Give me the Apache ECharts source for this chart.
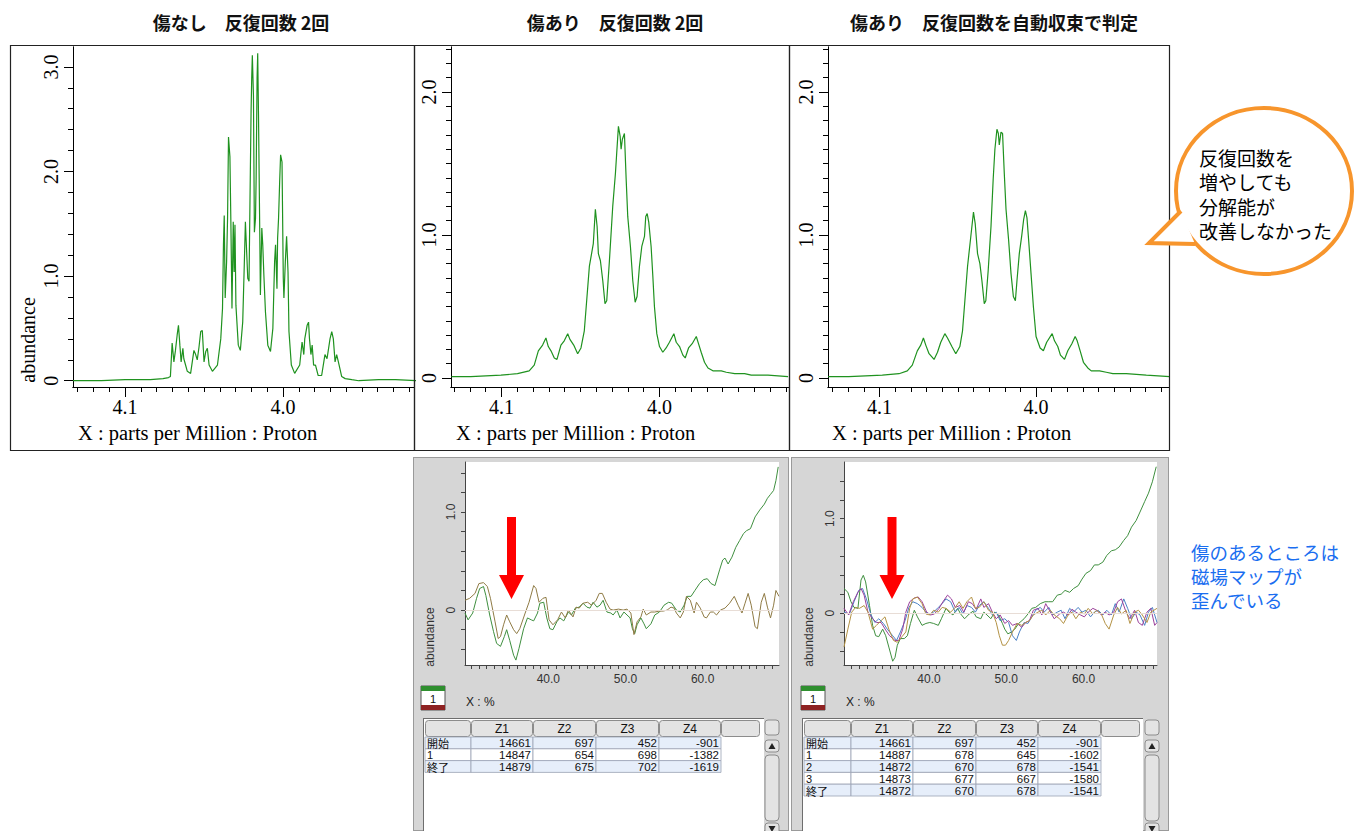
<!DOCTYPE html>
<html>
<head>
<meta charset="utf-8">
<script src="https://cdn.jsdelivr.net/npm/echarts@6/dist/echarts.min.js"></script>
<style>
  body { margin: 0; background: #fff; }
  .panel { position: absolute; background: #d6d6d6; border: 1px solid #9a9a9a; box-sizing: border-box; }
  .sheet { position: absolute; background: #fff; border-left: 1px solid #6e6e6e; border-top: 1px solid #6e6e6e; box-sizing: border-box; }
</style>
</head>
<body>
<div class="panel" style="left:413px;top:457px;width:376px;height:374px"></div>
<div class="panel" style="left:791px;top:457px;width:378px;height:374px"></div>
<div class="sheet" style="left:423px;top:718px;width:341px;height:113px"></div>
<div class="sheet" style="left:802px;top:718px;width:341px;height:113px"></div>
<div id="chart" style="position:absolute;left:0;top:0;width:1359px;height:831px"></div>
<script>
// ---- tick labels ----
var ppmMinor = [4.13, 4.12, 4.11, 4.10, 4.09, 4.08, 4.07, 4.06, 4.05, 4.04, 4.03, 4.02, 4.01, 4.00, 3.99, 3.98, 3.97, 3.96, 3.95, 3.94, 3.93, 3.92];
var ppmMajor = [4.1, 4.0];
var abundMinor1 = [0, 0.2, 0.4, 0.6, 0.8, 1.0, 1.2, 1.4, 1.6, 1.8, 2.0, 2.2, 2.4, 2.6, 2.8, 3.0];
var abundMajor1 = [0, 1, 2, 3];
var abundMinor2 = [0, 0.1, 0.2, 0.3, 0.4, 0.5, 0.6, 0.7, 0.8, 0.9, 1.0, 1.1, 1.2, 1.3, 1.4, 1.5, 1.6, 1.7, 1.8, 1.9, 2.0, 2.1, 2.2, 2.3];
var abundMajor2 = [0, 1, 2];
var pctTicks = [30, 31, 32, 33, 34, 35, 36, 37, 38, 39, 40, 41, 42, 43, 44, 45, 46, 47, 48, 49, 50, 51, 52, 53, 54, 55, 56, 57, 58, 59, 60, 61, 62, 63, 64, 65, 66, 67, 68, 69];
var pctLabels = [40, 50, 60];
var smallTicks = [-0.4, -0.2, 0, 0.2, 0.4, 0.6, 0.8, 1.0, 1.2, 1.4];
var smallLabels = [0, 1];

// ---- spectra [ppm, abundance] ----
var specNoFlaw = [
  [4.133,0.00],[4.115,0.00],[4.100,0.01],[4.084,0.01],[4.076,0.02],[4.0725,0.03],
  [4.0713,0.04],[4.0702,0.36],[4.0691,0.18],[4.0681,0.29],[4.0670,0.44],[4.0662,0.53],[4.0653,0.34],
  [4.0645,0.18],[4.0634,0.31],[4.0628,0.21],[4.0617,0.15],[4.0606,0.09],[4.0585,0.07],[4.0564,0.29],
  [4.0553,0.25],[4.0543,0.20],[4.0532,0.32],[4.0521,0.47],[4.0511,0.48],[4.0500,0.18],[4.0489,0.28],
  [4.0479,0.31],[4.0468,0.15],[4.0447,0.09],[4.0415,0.15],[4.0394,0.40],[4.0383,0.69],[4.0377,1.30],
  [4.0372,1.58],[4.0366,0.79],[4.0357,1.14],[4.0351,1.55],[4.0345,2.33],[4.0336,2.14],[4.0330,1.52],
  [4.0323,0.69],[4.0315,1.52],[4.0309,1.04],[4.0304,1.49],[4.0298,0.72],[4.0283,0.34],[4.0270,0.29],
  [4.0255,0.56],[4.0245,1.11],[4.0238,1.52],[4.0230,1.23],[4.0223,0.98],[4.0215,0.95],[4.0209,1.71],
  [4.0202,2.57],[4.0198,2.89],[4.0194,3.11],[4.0187,2.73],[4.0181,1.42],[4.0174,1.55],[4.0170,1.93],
  [4.0164,2.89],[4.0160,3.13],[4.0155,2.54],[4.0147,1.42],[4.0143,0.82],[4.0134,1.46],[4.0128,1.30],
  [4.0121,1.01],[4.0111,0.66],[4.0096,0.34],[4.0079,0.28],[4.0064,0.50],[4.0053,1.14],[4.0047,1.30],
  [4.0038,0.88],[4.0034,1.36],[4.0028,1.55],[4.0021,1.90],[4.0015,2.16],[4.0006,2.09],[3.9998,0.98],
  [3.9994,0.79],[3.9985,1.14],[3.9977,1.38],[3.9968,1.04],[3.9962,0.47],[3.9947,0.15],[3.9926,0.07],
  [3.9894,0.15],[3.9879,0.37],[3.9868,0.25],[3.9862,0.40],[3.9847,0.53],[3.9838,0.56],[3.9832,0.40],
  [3.9823,0.25],[3.9815,0.34],[3.9806,0.15],[3.9794,0.15],[3.9777,0.05],[3.9755,0.05],[3.9734,0.25],
  [3.9721,0.21],[3.9702,0.40],[3.9691,0.47],[3.9681,0.40],[3.9670,0.18],[3.9660,0.25],[3.9649,0.18],
  [3.9628,0.04],[3.9606,0.02],[3.9564,0.01],[3.9520,0.00],[3.9394,0.01],[3.9287,0.01],[3.9150,0.00]
];
var specFlaw2 = [
  [4.1317,0.01],[4.1195,0.01],[4.1004,0.02],[4.0899,0.03],[4.0825,0.05],[4.0793,0.09],[4.0767,0.19],
  [4.0740,0.23],[4.0719,0.28],[4.0704,0.22],[4.0687,0.19],[4.0666,0.14],[4.0649,0.13],[4.0624,0.23],
  [4.0603,0.26],[4.0581,0.31],[4.0567,0.27],[4.0543,0.23],[4.0518,0.17],[4.0497,0.21],[4.0476,0.33],
  [4.0461,0.54],[4.0444,0.78],[4.0433,0.85],[4.0419,0.94],[4.0406,1.18],[4.0395,1.06],[4.0387,0.87],
  [4.0374,0.82],[4.0359,0.68],[4.0345,0.52],[4.0334,0.54],[4.0317,0.82],[4.0296,1.20],[4.0279,1.43],
  [4.0271,1.57],[4.0260,1.76],[4.0249,1.69],[4.0243,1.60],[4.0235,1.67],[4.0222,1.71],[4.0211,1.39],
  [4.0201,1.13],[4.0184,0.92],[4.0169,0.68],[4.0154,0.53],[4.0142,0.57],[4.0127,0.78],[4.0112,0.92],
  [4.0095,0.99],[4.0087,1.13],[4.0078,1.15],[4.0068,1.09],[4.0053,0.92],[4.0042,0.71],[4.0032,0.50],
  [4.0017,0.31],[4.0000,0.22],[3.9979,0.18],[3.9958,0.21],[3.9937,0.25],[3.9909,0.31],[3.9894,0.25],
  [3.9873,0.22],[3.9852,0.16],[3.9837,0.14],[3.9816,0.21],[3.9793,0.24],[3.9767,0.29],[3.9753,0.24],
  [3.9736,0.18],[3.9715,0.11],[3.9693,0.07],[3.9662,0.05],[3.9609,0.05],[3.9577,0.04],[3.9524,0.03],
  [3.9461,0.03],[3.9419,0.02],[3.9313,0.02],[3.9186,0.01]
];
var specFlawAuto = [
  [4.1329,0.01],[4.1197,0.01],[4.0983,0.02],[4.0876,0.03],[4.0823,0.05],[4.0791,0.09],[4.0759,0.19],
  [4.0737,0.23],[4.0720,0.28],[4.0705,0.23],[4.0684,0.17],[4.0652,0.13],[4.0630,0.18],[4.0609,0.25],
  [4.0583,0.31],[4.0566,0.28],[4.0538,0.22],[4.0513,0.17],[4.0487,0.22],[4.0470,0.33],[4.0455,0.54],
  [4.0438,0.78],[4.0417,0.99],[4.0400,1.16],[4.0389,1.08],[4.0374,0.87],[4.0359,0.80],[4.0346,0.68],
  [4.0331,0.52],[4.0321,0.54],[4.0306,0.75],[4.0288,1.06],[4.0274,1.39],[4.0263,1.60],[4.0250,1.74],
  [4.0241,1.71],[4.0235,1.63],[4.0224,1.72],[4.0214,1.71],[4.0203,1.43],[4.0192,1.18],[4.0175,0.96],
  [4.0160,0.73],[4.0145,0.57],[4.0132,0.54],[4.0122,0.68],[4.0107,0.87],[4.0092,0.99],[4.0079,1.11],
  [4.0068,1.17],[4.0058,1.12],[4.0047,0.96],[4.0032,0.73],[4.0017,0.50],[4.0000,0.29],[3.9974,0.21],
  [3.9953,0.19],[3.9932,0.25],[3.9897,0.31],[3.9882,0.26],[3.9861,0.22],[3.9844,0.16],[3.9818,0.13],
  [3.9797,0.19],[3.9771,0.24],[3.9750,0.29],[3.9737,0.26],[3.9718,0.19],[3.9697,0.11],[3.9669,0.07],
  [3.9647,0.05],[3.9594,0.05],[3.9551,0.04],[3.9509,0.03],[3.9423,0.03],[3.9295,0.02],[3.9145,0.01]
];

// ---- field map profiles [%, abundance] ----
var mapA_green = [
  [29.2,-0.03],[29.6,-0.10],[30.2,-0.03],[30.7,0.12],[31.1,0.22],[31.6,0.24],[31.9,0.15],[32.4,-0.05],
  [32.9,-0.22],[33.3,-0.34],[33.8,-0.37],[34.3,-0.27],[34.6,-0.20],[35.0,-0.31],[35.5,-0.46],[35.8,-0.51],
  [36.2,-0.39],[36.8,-0.19],[37.3,-0.08],[37.8,-0.10],[38.1,-0.11],[38.6,-0.03],[38.9,0.07],[39.4,0.08],
  [39.8,-0.08],[40.2,-0.19],[40.6,-0.20],[41.1,-0.12],[41.5,-0.08],[42.0,-0.11],[42.6,-0.02],[43.0,-0.05],
  [43.5,0.02],[44.0,0.03],[44.5,0.07],[45.0,0.03],[45.4,0.02],[45.8,0.08],[46.3,0.03],[46.7,0.05],
  [47.1,0.10],[47.6,-0.02],[48.1,-0.03],[48.4,-0.05],[48.9,0.00],[49.3,-0.08],[49.8,-0.02],[50.2,-0.05],
  [50.6,-0.08],[50.9,-0.19],[51.2,-0.24],[51.5,-0.15],[52.0,-0.08],[52.4,-0.14],[52.7,-0.19],[53.3,-0.14],
  [53.8,-0.05],[54.4,-0.02],[55.0,0.05],[55.6,0.08],[56.0,0.07],[56.6,0.00],[57.1,-0.02],[57.6,0.05],
  [58.0,0.14],[58.5,0.14],[59.0,0.20],[59.6,0.27],[60.1,0.31],[60.6,0.32],[61.1,0.27],[61.6,0.25],
  [62.2,0.41],[62.6,0.51],[62.9,0.53],[63.3,0.47],[63.8,0.54],[64.3,0.64],[64.8,0.71],[65.3,0.78],
  [65.7,0.81],[66.2,0.83],[66.8,0.95],[67.4,1.02],[68.0,1.08],[68.4,1.14],[68.8,1.18],[69.2,1.22],
  [69.5,1.32],[69.8,1.46]
];
var mapA_brown = [
  [29.2,0.10],[29.8,0.12],[30.5,0.17],[31.0,0.27],[31.6,0.28],[32.1,0.24],[32.5,0.12],[33.1,-0.12],
  [33.5,-0.29],[33.8,-0.27],[34.2,-0.15],[34.6,-0.05],[35.0,-0.12],[35.5,-0.20],[35.9,-0.24],[36.3,-0.19],
  [37.0,-0.03],[37.5,0.08],[38.1,0.25],[38.4,0.22],[38.8,0.08],[39.3,0.12],[39.7,0.13],[40.1,-0.10],
  [40.6,-0.15],[41.2,-0.10],[41.7,-0.02],[42.2,-0.08],[42.6,0.00],[43.2,-0.07],[43.6,0.03],[44.0,0.02],
  [44.5,0.07],[45.1,0.08],[45.6,0.05],[46.2,0.10],[46.6,0.17],[47.0,0.17],[47.5,0.08],[48.0,0.01],
  [48.4,0.00],[49.1,0.01],[49.7,0.00],[50.2,0.01],[50.7,-0.03],[51.1,-0.25],[51.5,-0.12],[52.0,-0.07],
  [52.3,0.01],[52.7,-0.05],[53.3,-0.02],[53.8,-0.02],[54.4,-0.01],[54.9,-0.01],[55.4,0.00],[55.9,0.03],
  [56.3,0.02],[56.6,-0.03],[57.1,-0.08],[57.5,-0.02],[57.9,0.14],[58.4,0.10],[58.9,-0.03],[59.2,0.08],
  [59.7,0.02],[60.2,-0.07],[60.5,-0.08],[61.0,-0.02],[61.4,-0.02],[61.8,-0.05],[62.3,0.00],[62.9,0.02],
  [63.5,0.07],[64.1,0.14],[64.6,0.05],[65.1,-0.03],[65.5,0.07],[65.9,0.17],[66.3,0.05],[66.8,-0.17],
  [67.1,-0.19],[67.6,0.08],[68.0,0.17],[68.4,0.03],[68.8,-0.08],[69.2,0.05],[69.5,0.20],[69.9,0.14]
];
var mapB_green = [
  [29.0,0.26],[29.5,0.22],[29.9,0.12],[30.3,0.06],[30.8,0.05],[31.2,0.35],[31.5,0.40],[31.8,0.33],
  [32.3,0.08],[32.7,-0.13],[33.1,-0.24],[33.5,-0.25],[34.0,-0.17],[34.4,-0.24],[34.8,-0.36],[35.3,-0.51],
  [35.6,-0.47],[35.9,-0.34],[36.3,-0.27],[36.8,-0.27],[37.2,-0.24],[37.6,-0.11],[38.1,0.03],[38.5,-0.04],
  [39.1,-0.13],[39.6,-0.11],[40.1,-0.10],[40.6,-0.11],[41.2,-0.13],[41.6,-0.06],[42.2,0.05],[42.6,0.01],
  [43.1,-0.02],[43.7,0.05],[44.1,-0.01],[44.6,-0.06],[45.2,-0.01],[45.7,0.02],[46.1,-0.04],[46.7,-0.06],
  [47.1,0.01],[47.5,-0.02],[48.0,-0.06],[48.5,0.01],[49.0,-0.02],[49.5,-0.11],[49.8,-0.17],[50.2,-0.22],
  [50.7,-0.20],[51.1,-0.17],[51.6,-0.11],[52.3,-0.06],[52.8,-0.01],[53.3,0.05],[53.8,0.06],[54.4,0.10],
  [55.0,0.12],[55.5,0.12],[56.0,0.12],[56.6,0.19],[57.1,0.20],[57.6,0.24],[58.2,0.22],[58.7,0.26],
  [59.3,0.29],[59.8,0.36],[60.3,0.42],[60.9,0.45],[61.4,0.51],[61.9,0.51],[62.5,0.54],[63.0,0.61],
  [63.6,0.66],[64.1,0.67],[64.6,0.70],[65.2,0.77],[65.7,0.82],[66.2,0.91],[66.8,0.98],[67.3,1.07],
  [67.9,1.18],[68.4,1.27],[68.9,1.39],[69.4,1.55]
];
var mapB_purple = [
  [29.0,0.05],[29.6,-0.02],[30.2,0.12],[30.8,0.22],[31.2,0.26],[31.6,0.19],[32.1,0.01],[32.7,-0.06],
  [33.2,-0.10],[33.8,-0.10],[34.4,-0.18],[34.9,-0.24],[35.6,-0.29],[36.1,-0.29],[36.6,-0.17],[37.0,0.01],
  [37.5,0.12],[38.1,0.16],[38.6,0.17],[39.1,0.12],[39.7,0.01],[40.2,-0.02],[40.7,-0.01],[41.3,0.05],
  [41.8,0.12],[42.4,0.19],[42.9,0.15],[43.4,0.06],[44.0,0.08],[44.5,0.01],[45.1,0.12],[45.6,0.10],
  [46.1,0.04],[46.7,0.15],[47.1,0.06],[47.7,0.10],[48.2,0.01],[48.7,-0.06],[49.2,-0.02],[49.8,-0.11],
  [50.3,-0.08],[50.8,-0.13],[51.4,-0.11],[52.0,-0.15],[52.5,-0.10],[53.0,-0.08],[53.5,0.03],[54.1,0.05],
  [54.6,-0.02],[55.1,0.10],[55.7,0.01],[56.2,-0.06],[56.9,-0.01],[57.4,0.01],[58.0,-0.02],[58.5,0.04],
  [59.0,0.01],[59.6,-0.02],[60.1,-0.04],[60.6,0.01],[61.2,0.05],[61.7,0.03],[62.3,-0.02],[62.8,0.01],
  [63.3,-0.02],[63.9,0.01],[64.4,0.12],[64.9,0.15],[65.5,0.01],[66.0,-0.06],[66.6,0.03],[67.1,-0.10],
  [67.6,-0.13],[68.2,0.01],[68.7,0.05],[69.2,-0.13],[69.5,-0.10]
];
var mapB_blue = [
  [29.0,0.01],[29.7,-0.01],[30.3,0.12],[30.9,0.24],[31.4,0.26],[31.9,0.15],[32.5,-0.02],[33.0,-0.10],
  [33.5,-0.06],[34.1,-0.11],[34.6,-0.17],[35.3,-0.24],[35.8,-0.29],[36.3,-0.20],[36.9,-0.08],[37.4,0.06],
  [37.9,0.12],[38.5,0.10],[39.1,0.06],[39.6,0.01],[40.1,-0.01],[40.6,0.01],[41.2,0.06],[41.7,0.10],
  [42.2,0.15],[42.8,0.12],[43.4,0.01],[43.9,0.06],[44.4,-0.01],[44.9,0.08],[45.5,0.06],[46.0,0.01],
  [46.5,0.08],[47.1,0.12],[47.7,0.05],[48.2,-0.02],[48.7,0.01],[49.2,-0.08],[49.8,-0.06],[50.3,-0.10],
  [50.8,-0.24],[51.3,-0.29],[51.7,-0.20],[52.3,-0.10],[52.8,-0.11],[53.3,-0.04],[53.8,0.03],[54.4,0.06],
  [54.9,0.01],[55.5,0.06],[56.0,-0.02],[56.6,0.01],[57.1,0.03],[57.6,-0.06],[58.2,0.05],[58.7,0.01],
  [59.3,0.06],[59.8,0.01],[60.3,0.03],[60.9,-0.04],[61.4,0.01],[61.9,0.03],[62.5,-0.02],[63.0,0.03],
  [63.6,-0.02],[64.1,0.10],[64.6,0.01],[65.2,0.15],[65.7,0.05],[66.2,-0.06],[66.8,0.01],[67.3,-0.02],
  [67.9,-0.13],[68.4,0.01],[68.9,0.06],[69.5,-0.10]
];
var mapB_olive = [
  [29.0,-0.36],[29.5,-0.17],[30.0,0.01],[30.5,0.06],[31.0,0.05],[31.6,0.08],[32.1,0.01],[32.7,-0.17],
  [33.2,-0.13],[33.8,-0.08],[34.3,-0.04],[34.8,-0.17],[35.4,-0.29],[35.9,-0.31],[36.5,-0.25],[37.0,-0.20],
  [37.5,0.05],[37.9,0.15],[38.5,0.17],[39.1,0.10],[39.6,-0.01],[40.1,-0.02],[40.6,0.03],[41.2,0.01],
  [41.7,0.06],[42.2,0.05],[42.8,0.01],[43.4,0.06],[43.9,0.12],[44.4,0.05],[44.9,0.12],[45.5,0.17],
  [46.0,0.05],[46.5,0.06],[47.1,0.12],[47.7,0.03],[48.2,0.01],[48.7,-0.10],[49.1,-0.24],[49.5,-0.34],
  [49.9,-0.34],[50.3,-0.29],[50.8,-0.20],[51.4,-0.11],[52.0,-0.13],[52.5,-0.10],[53.0,-0.08],[53.5,-0.02],
  [54.1,0.01],[54.6,0.03],[55.1,-0.02],[55.7,0.03],[56.2,-0.02],[56.9,-0.06],[57.4,-0.11],[58.0,-0.02],
  [58.5,0.01],[59.0,-0.06],[59.6,0.01],[60.1,-0.01],[60.6,0.05],[61.2,-0.01],[61.7,0.03],[62.3,-0.01],
  [62.8,-0.11],[63.3,-0.17],[63.9,-0.02],[64.4,0.06],[64.9,-0.01],[65.5,0.03],[66.0,-0.11],[66.6,0.01],
  [67.1,0.03],[67.6,-0.02],[68.2,-0.10],[68.7,0.01],[69.5,0.05]
];

// ---- tables ----
var tableCols = ["Z1", "Z2", "Z3", "Z4"];
var rowsA = ["開始", "1", "終了"];
var valuesA = [
  [14661, 697, 452, -901],
  [14847, 654, 698, -1382],
  [14879, 675, 702, -1619]
];
var rowsB = ["開始", "1", "2", "3", "終了"];
var valuesB = [
  [14661, 697, 452, -901],
  [14887, 678, 645, -1602],
  [14872, 670, 678, -1541],
  [14873, 677, 667, -1580],
  [14872, 670, 678, -1541]
];

var titles = ["傷なし　反復回数 2回", "傷あり　反復回数 2回", "傷あり　反復回数を自動収束で判定"];
var bubbleLines = ["反復回数を", "増やしても", "分解能が", "改善しなかった"];
var noteLines = ["傷のあるところは", "磁場マップが", "歪んでいる"];

var serif = "Liberation Serif, Times New Roman, serif";
var sans = "Liberation Sans, DejaVu Sans, sans-serif";
var jp = "Noto Sans CJK JP, sans-serif";

function fmt(v) { return v === 0 ? "0" : v.toFixed(1); }

// top spectra axes: one axis for short ticks, one for long ticks + labels
function ppmAxis(grid, min, max, major) {
  return {
    type: "value", gridIndex: grid, position: "bottom", inverse: true, min: min, max: max,
    axisLine: { show: true, onZero: false, lineStyle: { color: "#000", width: 1 } },
    axisTick: { show: true, length: major ? 10 : 5, customValues: major ? ppmMajor : ppmMinor, lineStyle: { color: "#000" } },
    axisLabel: { show: major, customValues: ppmMajor, formatter: fmt, fontFamily: serif, fontSize: 20, color: "#000", margin: 10 },
    splitLine: { show: false }
  };
}
function abundAxis(grid, min, max, ticks, labels, major) {
  return {
    type: "value", gridIndex: grid, position: "left", min: min, max: max,
    axisLine: { show: true, onZero: false, lineStyle: { color: "#000", width: 1 } },
    axisTick: { show: true, length: major ? 9 : 5, customValues: major ? labels : ticks, lineStyle: { color: "#000" } },
    axisLabel: { show: major, customValues: labels, formatter: fmt, rotate: 90, fontFamily: serif, fontSize: 20, color: "#000", margin: 12 },
    splitLine: { show: false }
  };
}
function pctAxis(grid, min, max) {
  return {
    type: "value", gridIndex: grid, position: "bottom", min: min, max: max,
    axisLine: { show: true, onZero: false, lineStyle: { color: "#444", width: 1 } },
    axisTick: { show: true, length: 4, customValues: pctTicks, lineStyle: { color: "#444" } },
    axisLabel: { customValues: pctLabels, formatter: fmt, fontFamily: sans, fontSize: 12, color: "#333", margin: 8 },
    splitLine: { show: false }
  };
}
function smallAxis(grid, min, max) {
  return {
    type: "value", gridIndex: grid, position: "left", min: min, max: max,
    axisLine: { show: true, onZero: false, lineStyle: { color: "#444", width: 1 } },
    axisTick: { show: true, length: 4, customValues: smallTicks, lineStyle: { color: "#444" } },
    axisLabel: { customValues: smallLabels, formatter: fmt, rotate: 90, fontFamily: sans, fontSize: 12, color: "#333", margin: 8 },
    splitLine: { show: false }
  };
}
function line(data, xi, yi, color, width) {
  return {
    type: "line", data: data, xAxisIndex: xi, yAxisIndex: yi, showSymbol: false, symbol: "none",
    lineStyle: { color: color, width: width }, silent: true, animation: false
  };
}
function txt(x, y, text, size, family, color, align, rot, weight, lh) {
  var st = { text: text, x: 0, y: 0, fontSize: size, fontFamily: family, fill: color, fontWeight: weight || "normal",
    align: align || "left", textAlign: align || "left", verticalAlign: "middle", textVerticalAlign: "middle" };
  if (lh) st.lineHeight = lh;
  return { type: "text", x: x, y: y, rotation: rot || 0, z: 20, style: st };
}

// table drawn as graphic cells
function table(colEdges, top, rowH, labels, values) {
  var g = [];
  var hh = 17;
  for (var c = 0; c < colEdges.length - 1; c++) {
    g.push({ type: "rect", z: 10, shape: { x: colEdges[c] + 0.5, y: top + 0.5, width: colEdges[c + 1] - colEdges[c] - 1, height: hh - 1, r: 3 },
      style: { fill: "#e3e3e3", stroke: "#8c8c8c", lineWidth: 1 } });
    if (c >= 1 && c <= tableCols.length) {
      g.push(txt((colEdges[c] + colEdges[c + 1]) / 2, top + hh / 2, tableCols[c - 1], 12, sans, "#111", "center"));
    }
  }
  for (var r = 0; r < labels.length; r++) {
    var y = top + hh + r * rowH;
    for (var k = 0; k <= tableCols.length; k++) {
      g.push({ type: "rect", z: 10, shape: { x: colEdges[k], y: y, width: colEdges[k + 1] - colEdges[k], height: rowH },
        style: { fill: r % 2 === 0 ? "#e6eefa" : "#ffffff", stroke: "#9aa2b4", lineWidth: 0.8 } });
    }
    var isNum = /^[0-9]+$/.test(labels[r]);
    g.push(txt(colEdges[0] + 2, y + rowH / 2 + 0.5, labels[r], 11, isNum ? sans : jp, "#111", "left", 0, "normal", 11));
    for (var k2 = 0; k2 < tableCols.length; k2++) {
      g.push(txt(colEdges[k2 + 2] - 2, y + rowH / 2 + 0.5, String(values[r][k2]), 11.5, sans, "#111", "right", 0, "normal", 11));
    }
  }
  return g;
}
function scrollBar(x, top) {
  return [
    { type: "rect", z: 10, shape: { x: x, y: top + 1, width: 14, height: 15, r: 3 }, style: { fill: "#e3e3e3", stroke: "#8c8c8c" } },
    { type: "rect", z: 10, shape: { x: x, y: top + 21, width: 14, height: 12, r: 3 }, style: { fill: "#e3e3e3", stroke: "#8c8c8c" } },
    { type: "polygon", z: 11, shape: { points: [[x + 3.5, top + 30], [x + 10.5, top + 30], [x + 7, top + 24]] }, style: { fill: "#222" } },
    { type: "rect", z: 10, shape: { x: x, y: top + 36, width: 14, height: 66, r: 4 }, style: { fill: "#e3e3e3", stroke: "#8c8c8c" } },
    { type: "rect", z: 10, shape: { x: x, y: top + 104, width: 14, height: 12, r: 3 }, style: { fill: "#e3e3e3", stroke: "#8c8c8c" } },
    { type: "polygon", z: 11, shape: { points: [[x + 3.5, top + 107], [x + 10.5, top + 107], [x + 7, top + 113]] }, style: { fill: "#222" } }
  ];
}
function legendChip(x, y) {
  return [
    { type: "rect", z: 10, shape: { x: x, y: y, width: 24, height: 24 }, style: { fill: "#fff", stroke: "#555", lineWidth: 1 } },
    { type: "rect", z: 11, shape: { x: x, y: y, width: 24, height: 5 }, style: { fill: "#2f8f2f" } },
    { type: "rect", z: 11, shape: { x: x, y: y + 19, width: 24, height: 5 }, style: { fill: "#8e2222" } },
    txt(x + 12, y + 12.5, "1", 11, sans, "#111", "center")
  ];
}
function arrow(cx) {
  return { type: "polygon", z: 30, shape: { points: [[cx - 4.5, 517], [cx + 4.5, 517], [cx + 4.5, 575], [cx + 12.5, 575], [cx, 599], [cx - 12.5, 575], [cx - 4.5, 575]] },
    style: { fill: "#ff0000" } };
}

var graphics = [];
// frames of the three spectra
[[10, 414], [414, 789], [789, 1169]].forEach(function (p) {
  graphics.push({ type: "rect", z: 5, shape: { x: p[0] + 0.5, y: 45.5, width: p[1] - p[0], height: 405 }, style: { fill: null, stroke: "#222", lineWidth: 1.2 } });
});
graphics.push(txt(241, 22, titles[0], 18, jp, "#111", "center", 0, "bold"));
graphics.push(txt(615, 22, titles[1], 18, jp, "#111", "center", 0, "bold"));
graphics.push(txt(994, 22, titles[2], 18, jp, "#111", "center", 0, "bold"));
graphics.push(txt(78, 433, "X : parts per Million : Proton", 20.5, serif, "#000", "left"));
graphics.push(txt(456, 433, "X : parts per Million : Proton", 20.5, serif, "#000", "left"));
graphics.push(txt(832, 433, "X : parts per Million : Proton", 20.5, serif, "#000", "left"));
graphics.push(txt(28, 340, "abundance", 20, serif, "#000", "center", Math.PI / 2));
// field map panel texts
graphics.push(txt(430, 637, "abundance", 12, sans, "#333", "center", Math.PI / 2));
graphics.push(txt(809, 637, "abundance", 12, sans, "#333", "center", Math.PI / 2));
graphics.push(txt(466, 702, "X : %", 12, sans, "#222", "left"));
graphics.push(txt(846, 702, "X : %", 12, sans, "#222", "left"));
graphics = graphics.concat(legendChip(421, 686), legendChip(801, 686));
graphics = graphics.concat(table([425, 471, 533, 596, 659, 721, 760], 720, 11.8, rowsA, valuesA));
graphics = graphics.concat(table([804, 851, 913, 976, 1038, 1101, 1140], 720, 11.8, rowsB, valuesB));
graphics = graphics.concat(scrollBar(765, 719), scrollBar(1145, 719));
graphics.push(arrow(511.5), arrow(892));
// speech bubble
graphics.push({ type: "ellipse", z: 40, shape: { cx: 1264, cy: 191, rx: 88, ry: 83 }, style: { fill: "#fff", stroke: "#f7952c", lineWidth: 4 } });
graphics.push({ type: "polygon", z: 41, shape: { points: [[1181, 211], [1149, 243], [1195, 244]] }, style: { fill: "#fff" } });
graphics.push({ type: "polyline", z: 42, shape: { points: [[1181, 211], [1149, 243], [1195, 244]] }, style: { fill: null, stroke: "#f7952c", lineWidth: 4, lineJoin: "miter" } });
bubbleLines.forEach(function (s, i) { var t = txt(1199, 157 + i * 24.5, s, 19, jp, "#000", "left"); t.z = 45; graphics.push(t); });
noteLines.forEach(function (s, i) { graphics.push(txt(1191, 552 + i * 24, s, 18.5, jp, "#1a6ef0", "left")); });

var chart = echarts.init(document.getElementById("chart"), null, { renderer: "svg" });
var option = {
  backgroundColor: "transparent",
  animation: false,
  grid: [
    { left: 73, top: 47, width: 341, height: 340 },
    { left: 451, top: 47, width: 338, height: 340 },
    { left: 828, top: 47, width: 341, height: 340 },
    { left: 465, top: 462, width: 314, height: 203, show: true, backgroundColor: "#fff", borderWidth: 0 },
    { left: 844, top: 462, width: 313, height: 203, show: true, backgroundColor: "#fff", borderWidth: 0 }
  ],
  xAxis: [
    ppmAxis(0, 3.917, 4.133, false), ppmAxis(0, 3.917, 4.133, true),
    ppmAxis(1, 3.918, 4.132, false), ppmAxis(1, 3.918, 4.132, true),
    ppmAxis(2, 3.915, 4.133, false), ppmAxis(2, 3.915, 4.133, true),
    pctAxis(3, 29.2, 69.9), pctAxis(4, 29.0, 69.5)
  ],
  yAxis: [
    abundAxis(0, -0.06, 3.19, abundMinor1, abundMajor1, false), abundAxis(0, -0.06, 3.19, abundMinor1, abundMajor1, true),
    abundAxis(1, -0.063, 2.315, abundMinor2, abundMajor2, false), abundAxis(1, -0.063, 2.315, abundMinor2, abundMajor2, true),
    abundAxis(2, -0.063, 2.315, abundMinor2, abundMajor2, false), abundAxis(2, -0.063, 2.315, abundMinor2, abundMajor2, true),
    smallAxis(3, -0.56, 1.51), smallAxis(4, -0.55, 1.60)
  ],
  series: [
    line(specNoFlaw, 0, 0, "#1f921f", 1.2),
    line(specFlaw2, 2, 2, "#1f921f", 1.2),
    line(specFlawAuto, 4, 4, "#1f921f", 1.2),
    Object.assign(line(mapA_green, 6, 6, "#3f8f3f", 1), {
      markLine: { silent: true, symbol: "none", label: { show: false }, lineStyle: { color: "#e8ddd6", type: "solid", width: 1 }, data: [{ yAxis: 0 }] }
    }),
    line(mapA_brown, 6, 6, "#8f7b45", 1),
    Object.assign(line(mapB_green, 7, 7, "#3f8f3f", 1), {
      markLine: { silent: true, symbol: "none", label: { show: false }, lineStyle: { color: "#e8ddd6", type: "solid", width: 1 }, data: [{ yAxis: 0 }] }
    }),
    line(mapB_blue, 7, 7, "#4a80c4", 1),
    line(mapB_purple, 7, 7, "#9b409b", 1),
    line(mapB_olive, 7, 7, "#b39245", 1)
  ],
  graphic: { elements: graphics }
};
chart.setOption(option);
</script>
</body>
</html>
